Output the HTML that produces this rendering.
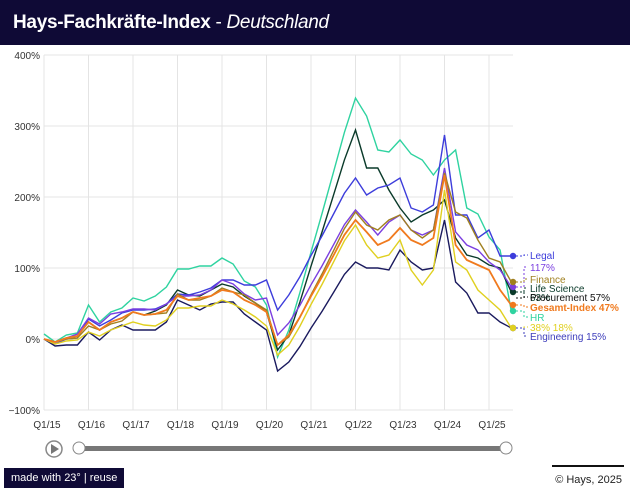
<!DOCTYPE html>
<html><head><meta charset="utf-8"><style>
body{margin:0;width:630px;height:495px;background:#fff;font-family:"Liberation Sans",sans-serif;overflow:hidden;position:relative}
.hd{position:absolute;left:0;top:0;width:630px;height:45px;background:#0f0a36;color:#fff;font-size:19px;line-height:45px;padding-left:13px;box-sizing:border-box;letter-spacing:-0.3px}
.badge{position:absolute;left:4px;top:468px;background:#0f0a36;color:#fff;font-size:11px;padding:4px 7px}
.cp{position:absolute;right:8px;top:474px;font-size:11px;color:#222}
.cpl{position:absolute;left:552px;top:465px;width:72px;height:2px;background:#111}
</style></head><body>
<div class="hd"><b>Hays-Fachkräfte-Index</b> - <i>Deutschland</i></div>
<svg id="s" width="630" height="495" style="position:absolute;left:0;top:0" font-family="Liberation Sans, sans-serif"></svg>
<div class="badge">made with 23° | reuse</div>
<div class="cpl"></div>
<div class="cp">© Hays, 2025</div>
<script>
const s=document.getElementById('s');let h='';
const X=t=>44+11.125*t;
const Y=v=>339-v*0.71;
for(let v=-100;v<=400;v+=100){h+=`<line x1="44" x2="513" y1="${Y(v)}" y2="${Y(v)}" stroke="#e4e4e4"/>`;h+=`<text x="40" y="${Y(v)+4}" font-size="10" text-anchor="end" fill="#333">${v==-100?'−100%':v+'%'}</text>`}
for(let i=0;i<=10;i++){h+=`<line x1="${X(4*i)}" x2="${X(4*i)}" y1="55" y2="410" stroke="#e4e4e4"/>`;h+=`<text x="${X(4*i)+3}" y="428" font-size="10" text-anchor="middle" fill="#333">Q1/${15+i}</text>`}
const base=[339,342,338,336,322,330,322,318,312,315,314,310,296,300,298,296,290,292,300,305,312,345,335];
const S=[
['#2fd3a0',[-5,0,-3,-3,-17,-8,-10,-10,-14,-14,-18,-23,-27,-31,-32,-30,-32,-28,-19,-18,-7,12,-5],[98,116,150,152,140,154,160,175,160,150,208,214,237,250,311]],
['#1a1a5e',[0,4,7,9,10,10,8,7,18,15,16,12,4,5,12,8,12,10,14,17,18,26,27],[262,268,268,270,250,262,270,268,220,282,293,313,313,322,328]],
['#0a3a2a',[0,0,0,0,0,0,0,0,0,0,-3,-5,-6,-5,-2,-6,-6,-5,-4,-2,0,5,0],[130,168,168,190,208,222,215,210,200,238,255,258,265,268,292]],
['#3d3ddb',[0,2,1,2,-3,-4,-2,-5,-2,-5,-5,-6,-2,-5,-6,-8,-10,-12,-15,-20,-32,-35,-40],[178,195,188,185,178,208,212,205,135,215,215,238,230,256,256]],
['#7b3fe0',[0,0,0,-2,-4,-6,-8,-6,-3,-6,-4,-6,0,-4,-3,-6,-10,-8,-6,-5,-14,-10,-12],[210,222,235,222,215,230,235,230,168,232,245,250,262,270,287]],
['#a08020',[0,0,1,2,4,0,2,3,0,0,0,3,-2,0,2,0,-2,0,-5,-2,-2,0,2],[212,225,230,220,215,230,238,230,173,212,218,240,258,262,282]],
['#e0d020',[0,2,3,4,10,6,8,8,10,10,12,10,12,8,8,10,10,12,10,12,14,10,10],[225,245,258,255,240,270,285,270,190,262,270,290,300,310,328]],
['#f07a1e',[0,0,0,0,0,0,0,0,0,0,0,0,0,0,0,0,0,0,0,0,0,0,0],[220,232,245,240,228,240,245,238,175,245,260,265,270,290,305]],
];
const midBase=[335,325,305,290,270,250];
S.forEach(([c,off,late])=>{
 let ys=base.map((b,i)=>b+off[i]);
 const e=ys[22],l=late[0];
 for(let t=23;t<28;t++){ys.push(e+(l-e)*(t-22)/6+(midBase[t-22]-(335+(250-335)*(t-22)/6))*0.3)}
 ys=ys.concat(late);
 h+=`<polyline fill="none" stroke="${c}" stroke-width="${c=='#f07a1e'?1.8:1.4}" points="${ys.map((y,t)=>X(t).toFixed(1)+','+y).join(' ')}"/>`;
 h+=`<circle cx="513" cy="${late[14]}" r="3.2" fill="${c}"/>`;
});
const L=[['Legal','#3d3ddb',259,256],['117%','#7b3fe0',271,287],['Finance','#a08020',283,282],['Life Science','#0a3a2a',292,292],['63%','#0a3a2a',301,292],['Procurement 57%','#111',301,298],['Gesamt-Index 47%','#f07a1e',311,305],['HR','#2fd3a0',321,311],['38% 18%','#e0d020',331,328],['Engineering 15%','#3d3dbb',340,328]];
L.forEach(([t,c,y,py])=>{h+=`<polyline fill="none" stroke="${c}" stroke-dasharray="2,2" points="516,${py} 524,${py} 524,${y-4} 528,${y-4}"/>`;h+=`<text x="530" y="${y}" font-size="10" fill="${c}" ${t.startsWith('Gesamt')?'font-weight="bold"':''}>${t}</text>`});
h+=`<circle cx="54" cy="449" r="8" fill="none" stroke="#888" stroke-width="1.5"/><path d="M51 444 L59 449 L51 454Z" fill="#777"/>`;
h+=`<rect x="80" y="446" width="425" height="5" fill="#777"/><circle cx="79" cy="448" r="6" fill="#fff" stroke="#888"/><circle cx="506" cy="448" r="6" fill="#fff" stroke="#888"/>`;
s.innerHTML=h;
</script>
</body></html>
